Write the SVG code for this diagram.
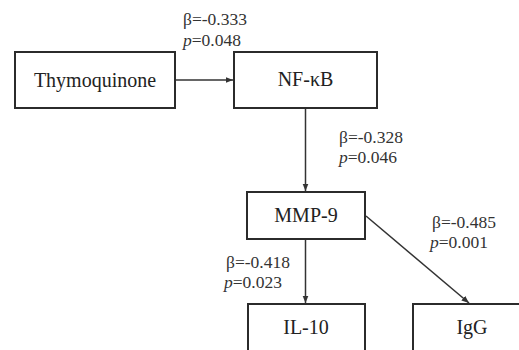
<svg xmlns="http://www.w3.org/2000/svg" width="519" height="350" viewBox="0 0 519 350">
<defs>
<style>
text{font-family:'Liberation Serif','DejaVu Serif',serif}
.box{fill:#fff;stroke:#2b2b2b;stroke-width:2}
.lbl{font-size:20px;fill:#222;text-anchor:middle}
.st{font-size:17.5px;fill:#333}
.edge{stroke:#333;stroke-width:1.5;fill:none;marker-end:url(#ah)}
</style>
<marker id="ah" viewBox="0 0 10 10" refX="10" refY="5" markerWidth="5" markerHeight="5" orient="auto" markerUnits="strokeWidth">
<path d="M0,1 L10,5 L0,9 z" fill="#333"/>
</marker>
</defs>
<rect width="519" height="350" fill="#fff"/>
<g id="connectors">
<line class="edge" x1="176" y1="80" x2="233" y2="80"/>
<line class="edge" x1="305.5" y1="109" x2="305.5" y2="191"/>
<line class="edge" x1="305.5" y1="240" x2="305.5" y2="303"/>
<line class="edge" x1="366" y1="216" x2="469" y2="303"/>
</g>
<g id="thymoquinone">
<rect class="box" x="15" y="52" width="160" height="56"/>
<text class="lbl" x="95" y="87" font-family="Liberation Serif">Thymoquinone</text>
</g>
<g id="nfkb">
<rect class="box" x="234" y="52" width="143" height="56"/>
<text class="lbl" x="305.5" y="86" font-family="Liberation Serif">NF-κB</text>
</g>
<g id="mmp9">
<rect class="box" x="247" y="192" width="118" height="47"/>
<text class="lbl" x="306" y="222" font-family="Liberation Serif">MMP-9</text>
</g>
<g id="il10">
<rect class="box" x="248" y="304" width="117" height="60"/>
<text class="lbl" x="306" y="334" font-family="Liberation Serif">IL-10</text>
</g>
<g id="igg">
<rect class="box" x="413" y="304" width="120" height="60"/>
<text class="lbl" x="472" y="334" font-family="Liberation Serif">IgG</text>
</g>
<g id="labels" font-family="Liberation Serif">
<text class="st" x="183" y="25">β=-0.333</text>
<text class="st" x="183" y="46"><tspan font-style="italic">p</tspan>=0.048</text>
<text class="st" x="339" y="143">β=-0.328</text>
<text class="st" x="339" y="163"><tspan font-style="italic">p</tspan>=0.046</text>
<text class="st" x="432" y="228">β=-0.485</text>
<text class="st" x="430" y="248"><tspan font-style="italic">p</tspan>=0.001</text>
<text class="st" x="226" y="268">β=-0.418</text>
<text class="st" x="224" y="288"><tspan font-style="italic">p</tspan>=0.023</text>
</g>
</svg>
